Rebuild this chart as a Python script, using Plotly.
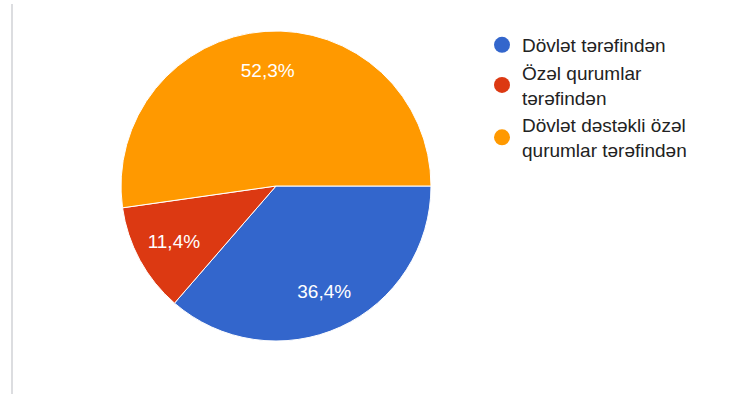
import plotly.graph_objects as go

labels = ["Dövlət tərəfindən", "Özəl qurumlar<br>tərəfindən", "Dövlət dəstəkli özəl<br>qurumlar tərəfindən"]
values = [36.4, 11.4, 52.3]
colors = ["#3366cc", "#dc3912", "#ff9900"]

W, H = 734, 394
dom = dict(x=[121 / W, 431 / W], y=[1 - 341 / H, 1 - 31 / H])
fig = go.Figure()
fig.add_trace(go.Pie(
    labels=labels, values=values, sort=False, direction="clockwise", rotation=90,
    marker=dict(colors=colors, line=dict(color="white", width=1)),
    textinfo="none", showlegend=False, hoverinfo="label+percent", domain=dom,
))
# transparent ring overlay to place the percentage labels further out, as in the reference
fig.add_trace(go.Pie(
    labels=labels, values=values, sort=False, direction="clockwise", rotation=90,
    hole=0.5, marker=dict(colors=["rgba(0,0,0,0)"] * len(values), line=dict(width=0)),
    texttemplate="%{value:.1f}%", textposition="inside", insidetextorientation="horizontal",
    textfont=dict(color="white", size=19, family="Liberation Sans, Arial"),
    showlegend=False, hoverinfo="skip", domain=dom,
))
for lab, col in zip(labels, colors):
    fig.add_trace(go.Scatter(x=[None], y=[None], mode="markers", name=lab,
                             marker=dict(color=col, size=18, symbol="circle")))

fig.update_layout(
    width=W, height=H, margin=dict(l=0, r=0, t=0, b=0),
    paper_bgcolor="white", plot_bgcolor="white",
    separators=",.",
    xaxis=dict(visible=False), yaxis=dict(visible=False),
    legend=dict(x=482 / W, y=1 - 26 / H, xanchor="left", yanchor="top",
                font=dict(size=19, color="#222222", family="Liberation Sans, Arial"),
                itemwidth=30),
    shapes=[dict(type="line", xref="paper", yref="paper", x0=12 / W, x1=12 / W,
                 y0=0, y1=1 - 4 / H, line=dict(color="#dcdde0", width=2))],
)
fig.write_html("out.html")
